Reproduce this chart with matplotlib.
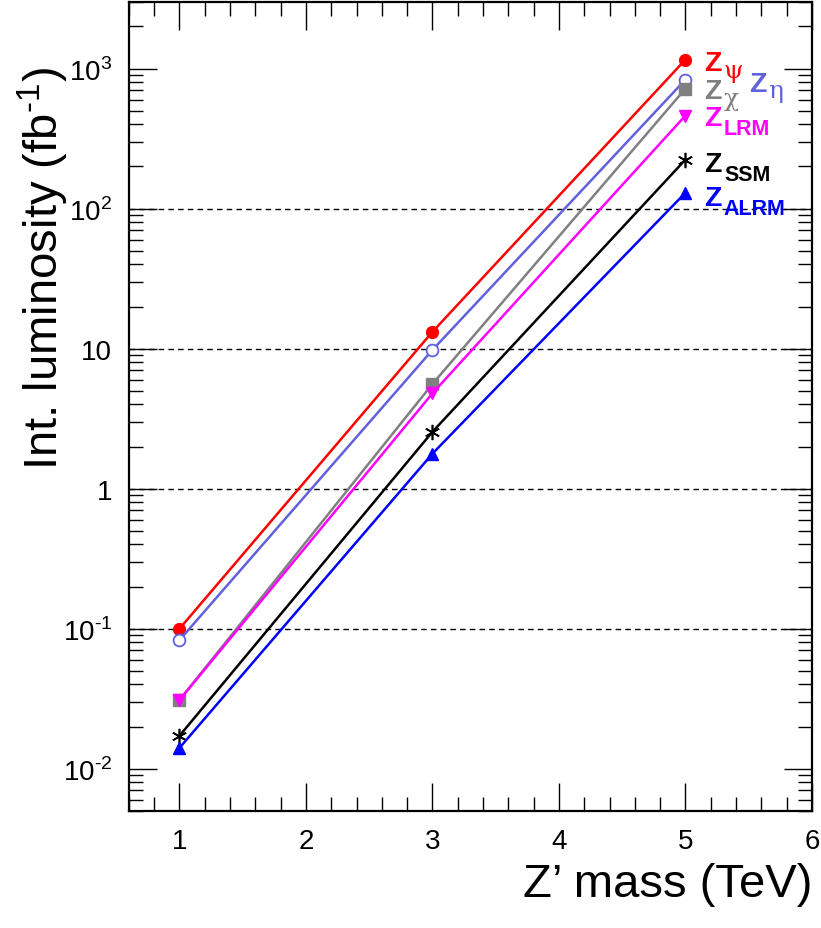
import matplotlib.pyplot as plt
import numpy as np
from matplotlib.ticker import MultipleLocator, LogLocator, FixedLocator

plt.rcParams['font.family'] = ['Liberation Sans', 'DejaVu Sans']
plt.rcParams['mathtext.fontset'] = 'custom'
plt.rcParams['mathtext.rm'] = 'Liberation Sans'
plt.rcParams['mathtext.bf'] = 'Liberation Sans:bold'

# Z' mass points (TeV) and required integrated luminosity (fb^-1)
mass = [1, 3, 5]
lumi_psi = [0.100, 13.2, 1160]
lumi_eta = [0.083, 9.8, 835]
lumi_chi = [0.031, 5.6, 720]
lumi_lrm = [0.031, 4.8, 462]
lumi_ssm = [0.0172, 2.55, 224]
lumi_alrm = [0.0141, 1.78, 130]

fig = plt.figure(figsize=(8.21, 9.29), dpi=100)
ax = fig.add_axes([0.157, 0.126, 0.832, 0.871])

# dashed reference lines
for yv in [0.1, 1, 10, 100]:
    ax.axhline(yv, color='black', ls=(0, (4, 3)), lw=1.0, zorder=1)

lw = 1.8
ax.plot(mass, lumi_psi, color='#ff0000', lw=lw, marker='o', ms=8.5, zorder=3)
ax.plot(mass, lumi_eta, color='#6161dc', lw=lw, marker='o', ms=8.5, mfc='white', mew=1.3, zorder=3)
ax.plot(mass, lumi_chi, color='#808080', lw=lw, marker='s', ms=8, zorder=3)
ax.plot(mass, lumi_lrm, color='#ff00ff', lw=lw, marker='v', ms=8.5, zorder=3)
ax.plot(mass, lumi_ssm, color='black', lw=lw, marker=(6, 2, 0), ms=11, mew=1.2, zorder=3)
ax.plot(mass, lumi_alrm, color='#0000ff', lw=lw, marker='^', ms=8.5, zorder=3)


def zlabel(x, y, sub, color, greek=False):
    ax.text(x, y, 'Z', color=color, fontsize=20.5, fontweight='bold', va='baseline')
    if greek:
        ax.annotate(sub, (x, y), xytext=(14, -5), textcoords='offset points',
                    color=color, fontsize=18, family='DejaVu Serif', va='baseline')
    else:
        ax.annotate(sub, (x, y), xytext=(14.5, -7), textcoords='offset points',
                    color=color, fontsize=15.5, fontweight='bold', va='baseline')


zlabel(5.145, 984, 'ψ', '#ff0000', greek=True)
zlabel(5.145, 621, 'χ', '#808080', greek=True)
zlabel(5.50, 697, 'η', '#6161dc', greek=True)
zlabel(5.145, 398, 'LRM', '#ff00ff')
zlabel(5.145, 187, 'SSM', 'black')
zlabel(5.145, 107, 'ALRM', '#0000ff')

ax.set_yscale('log')
ax.set_xlim(0.6, 6.0)
ax.set_ylim(0.005, 3000)

ax.xaxis.set_major_locator(MultipleLocator(1))
ax.xaxis.set_minor_locator(MultipleLocator(0.2))
ax.yaxis.set_major_locator(FixedLocator([0.01, 0.1, 1, 10, 100, 1000]))
ax.yaxis.set_minor_locator(LogLocator(base=10, subs=np.arange(2, 10)))
ax.set_yticklabels([r'$10^{\text{-2}}$', r'$10^{\text{-1}}$', '1', '10', r'$10^{2}$', r'$10^{3}$'])

ax.tick_params(which='both', direction='in', top=True, right=True, width=1.0)
ax.tick_params(which='major', length=20, labelsize=20, pad=12)
ax.tick_params(which='minor', length=10)
for s in ax.spines.values():
    s.set_linewidth(1.6)

ax.set_ylabel(r'Int. luminosity (fb$^{\text{-1}}$)', fontsize=34, loc='top')
ax.yaxis.set_label_coords(-0.085, 0.92)
ax.set_xlabel("Z’ mass (TeV)", fontsize=34, loc='right', labelpad=6)

fig.savefig('out.png', dpi=100)
